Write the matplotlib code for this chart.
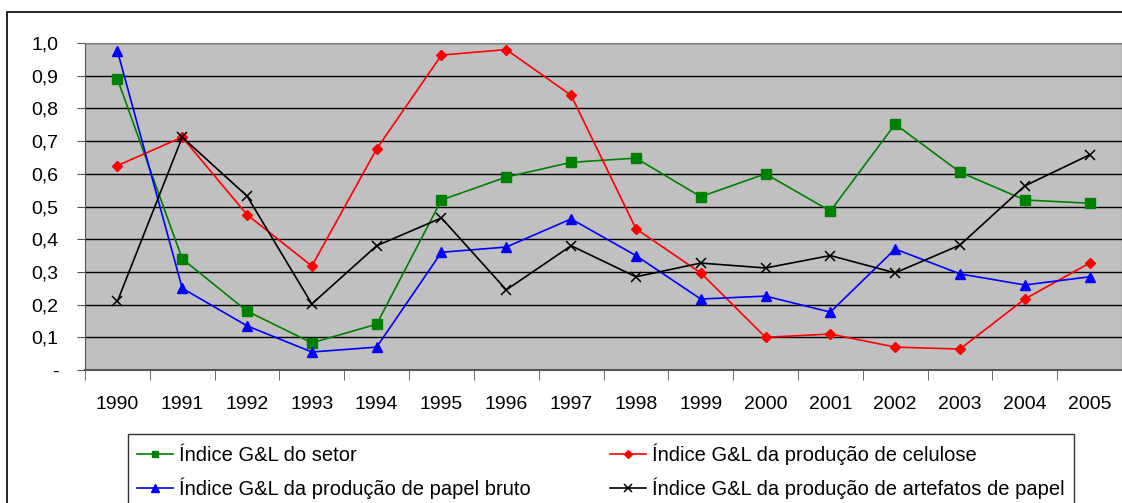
import matplotlib.pyplot as plt
from matplotlib.patches import Rectangle
import numpy as np

plt.rcParams['font.family'] = ['Liberation Sans', 'DejaVu Sans']

years = ['1990', '1991', '1992', '1993', '1994', '1995', '1996', '1997',
         '1998', '1999', '2000', '2001', '2002', '2003', '2004', '2005']

# Índice G&L values
setor = [0.89, 0.34, 0.18, 0.083, 0.14, 0.52, 0.59, 0.635,
         0.648, 0.53, 0.60, 0.486, 0.752, 0.605, 0.52, 0.51]
celulose = [0.625, 0.712, 0.475, 0.318, 0.676, 0.963, 0.98, 0.84,
            0.432, 0.297, 0.10, 0.11, 0.07, 0.064, 0.217, 0.327]
papel_bruto = [0.976, 0.25, 0.135, 0.055, 0.07, 0.36, 0.376, 0.462,
               0.35, 0.217, 0.226, 0.177, 0.37, 0.294, 0.26, 0.285]
artefatos = [0.21, 0.712, 0.532, 0.202, 0.38, 0.465, 0.245, 0.38,
             0.285, 0.327, 0.312, 0.35, 0.297, 0.382, 0.563, 0.658]

labels = ['Índice G&L do setor',
          'Índice G&L da produção de celulose',
          'Índice G&L da produção de papel bruto',
          'Índice G&L da produção de artefatos de papel']

fig = plt.figure(figsize=(11.22, 5.03), dpi=100)
ax = fig.add_axes([85 / 1122, 1 - 370 / 503, 1 - 85 / 1122, 327 / 503])
ax.set_facecolor('#c0c0c0')

x = np.arange(len(years))
h1, = ax.plot(x, setor, color='#008000', marker='s', markersize=6.5, lw=1.2)
h2, = ax.plot(x, celulose, color='#ff0000', marker='D', markersize=5.5, lw=1.2)
h3, = ax.plot(x, papel_bruto, color='#0000ff', marker='^', markersize=7.5, lw=1.2)
h4, = ax.plot(x, artefatos, color='black', marker='x', markersize=7.5,
              markeredgewidth=1.1, lw=1.2)

ax.set_xlim(-0.5, len(years) - 0.5)
ax.set_ylim(0, 1.0)

yt = np.round(np.arange(0, 1.01, 0.1), 1)
ax.set_yticks(yt)
ax.set_yticklabels(['-'] + [f'{v:.1f}'.replace('.', ',') for v in yt[1:]])
for v in yt[1:]:
    ax.axhline(v, color='black', lw=1.0, zorder=1)

ax.set_xticks(x)
ax.set_xticklabels(years)
ax.set_xticks(np.arange(-0.5, len(years), 1), minor=True)
ax.tick_params(axis='x', which='major', length=0, pad=19, labelsize=14)
ax.tick_params(axis='x', which='minor', length=7, direction='out', color='#555555')
ax.tick_params(axis='y', length=6, direction='out', pad=13, labelsize=14, color='#555555')

for s in ['top', 'right']:
    ax.spines[s].set_color('#808080')
ax.spines['left'].set_color('#555555')
ax.spines['bottom'].set_color('#555555')
ax.spines['bottom'].set_linewidth(1.5)

# outer chart border
fig.patches.append(Rectangle((7 / 1122, -0.1), 1.1, 1 - 12 / 503 + 0.1,
                             transform=fig.transFigure, fill=False,
                             edgecolor='black', lw=1.2, zorder=0))

# legend fills row by row in the reference
fig.legend([h1, h3, h2, h4], [labels[0], labels[2], labels[1], labels[3]],
           ncol=2, loc='upper left',
           bbox_to_anchor=(128 / 1122, 1 - 434 / 503), borderaxespad=0,
           frameon=True, fancybox=False, edgecolor='black', fontsize=14.5,
           handlelength=1.8, handletextpad=0.3, columnspacing=3.9,
           labelspacing=0.62, borderpad=0.45, markerscale=0.7)

fig.savefig('out.png', dpi=100)
